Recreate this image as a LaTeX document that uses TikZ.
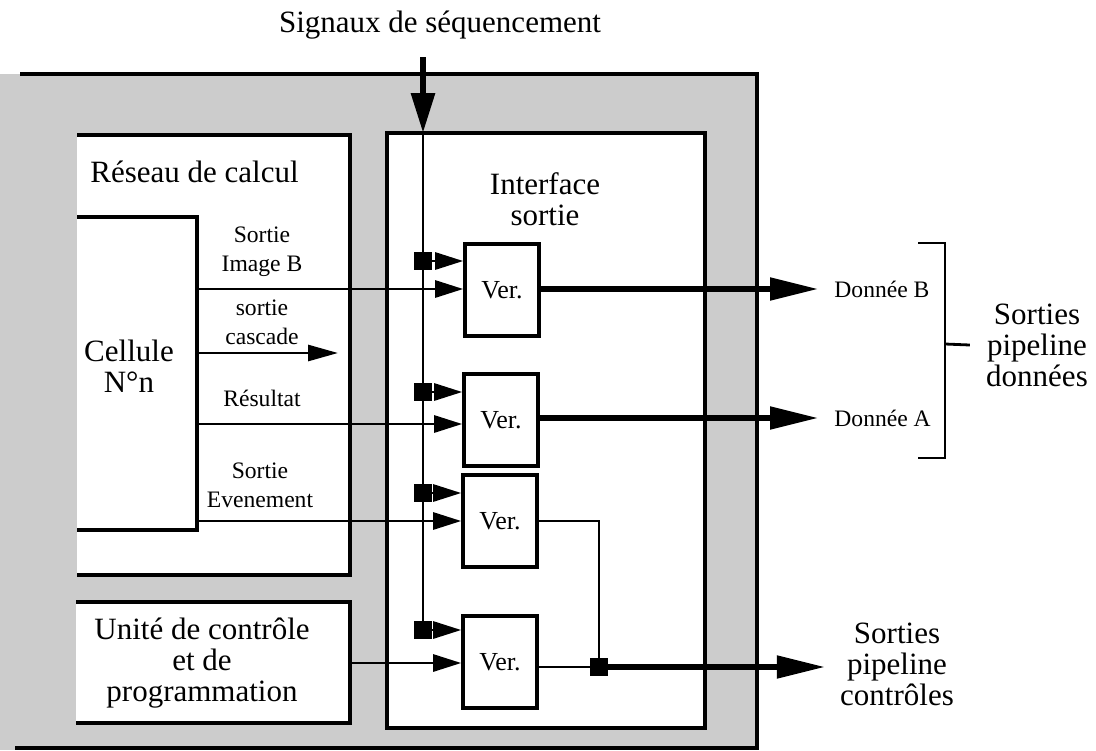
\documentclass[tikz,border=0pt]{standalone}
\usepackage{fontspec}
\setmainfont{Liberation Serif}
\usetikzlibrary{arrows.meta}
\newcommand{\bigtxt}{\fontsize{15.5}{15.5}\selectfont}
\newcommand{\smalltxt}{\fontsize{11.8}{14.5}\selectfont}
\newcommand{\vertxt}{\fontsize{13}{13}\selectfont}

\begin{document}
\begin{tikzpicture}[x=0.5pt, y=-0.5pt]

		% Define styles
		\tikzstyle{frame} = [line width=1.8pt]
		\tikzstyle{verbox} = [rectangle, draw, line width=1.8pt, fill=white,
		minimum width=37pt, minimum height=46pt, inner sep=0pt, font=\vertxt]
		\tikzstyle{junc} = [rectangle, fill=black, minimum size=9pt, inner sep=0pt]
		\tikzstyle{sigline} = [line width=1.4pt]
		\tikzstyle{inarrow} = [line width=1.4pt, -{Triangle[length=14pt, width=8.5pt]}]
		\tikzstyle{outarrow} = [line width=2.6pt, -{Triangle[length=24pt, width=11pt]}]
		\tikzstyle{biglbl} = [font=\bigtxt, align=center, inner sep=0pt]
		\tikzstyle{smalllbl} = [font=\smalltxt, align=center, inner sep=0pt]

		\useasboundingbox (0,0) rectangle (1096,750);

		% Shaded background and outer frame
		\fill[black!20] (0,74) rectangle (757,750);
		\draw[frame] (20,74) -- (757,74) -- (757,750);
		\draw[frame] (15,748) -- (757,748);

		% Blocks (open on the left)
		\fill[white] (77,135) rectangle (350,575);
		\draw[frame] (77,135) -- (350,135) -- (350,575) -- (77,575);
		\draw[frame] (77,217) -- (197,217) -- (197,530) -- (77,530);
		\fill[white] (76,602) rectangle (350,723);
		\draw[frame] (76,602) -- (350,602) -- (350,723) -- (76,723);
		\draw[frame, fill=white] (387,133) rectangle (705,728);

		% Block titles
		\node[biglbl, anchor=west] (reseau) at (90,172) {Réseau de calcul};
		\node[biglbl] (cellule) at (129,366) {Cellule\\N°n};
		\node[biglbl] (unite) at (202,663) {Unité de contrôle\\et de\\programmation};
		\node[biglbl] (interface) at (545,199) {Interface\\sortie};
		\node[biglbl] (seqlbl) at (440,25) {Signaux de séquencement};

		% Signal labels
		\node[smalllbl] (lblimgb) at (262,252) {Sortie\\Image B};
		\node[smalllbl] (lblcasc) at (262,322) {sortie\\cascade};
		\node[smalllbl] (lblres) at (262,398) {Résultat};
		\node[smalllbl] (lblevt) at (260,485) {Sortie\\Evenement};

		% Ver. boxes
		\node[verbox] (ver1) at (502,290) {Ver.};
		\node[verbox] (ver2) at (501,420) {Ver.};
		\node[verbox] (ver3) at (500,521) {Ver.};
		\node[verbox] (ver4) at (500,662) {Ver.};

		% Junctions
		\node[junc] (j1) at (423,261) {};
		\node[junc] (j2) at (423,392) {};
		\node[junc] (j3) at (423,493) {};
		\node[junc] (j4) at (423,630) {};
		\node[junc] (jctl) at (599,667) {};

		% Outputs labels
		\node[smalllbl, anchor=west, inner xsep=8pt] (donb) at (818,289) {Donnée B};
		\node[smalllbl, anchor=west, inner xsep=8pt] (dona) at (818,418) {Donnée A};
		\node[biglbl, inner xsep=8pt] (pipedon) at (1037,345) {Sorties\\pipeline\\données};
		\node[biglbl, inner xsep=7.5pt] (pipectl) at (897,664) {Sorties\\pipeline\\contrôles};

		% Sequencing signal
		\coordinate (seqtop) at (423,57);
		\coordinate (seqin) at (423,133);
		\draw[line width=3pt, -{Triangle[length=20pt, width=11.5pt]}] (seqtop) -- (seqin);
		\draw[sigline] (seqin) -- (j4);
		\foreach \j/\v in {j1/ver1, j2/ver2, j3/ver3, j4/ver4}
		\draw[inarrow] (\j) -- (\j -| \v.west);

		% Inputs from the cell and the control unit
		\coordinate (celimgb) at (197,289);
		\coordinate (celres) at (197,424);
		\coordinate (celevt) at (197,521);
		\coordinate (unictl) at (350,663);
		\coordinate (celcasc) at (197,353);
		\coordinate (cascend) at (338,353);
		\draw[inarrow] (celimgb) -- (celimgb -| ver1.west);
		\draw[inarrow] (celres) -- (celres -| ver2.west);
		\draw[inarrow] (celevt) -- (celevt -| ver3.west);
		\draw[inarrow] (unictl) -- (unictl -| ver4.west);
		\draw[line width=1.4pt, -{Triangle[length=15pt, width=8pt]}] (celcasc) -- (cascend);

		% Outputs
		\draw[outarrow] (ver1.east |- donb) -- (donb);
		\draw[outarrow] (ver2.east |- dona) -- (dona);
		\draw[sigline] (ver3) -| (jctl);
		\draw[sigline] (ver4.east |- jctl) -- (jctl);
		\draw[outarrow] (jctl) -- (jctl -| pipectl.west);

		% Bracket
		\coordinate (brk) at (945,344);
		\draw[sigline] (918,243) -- (945,243) -- (945,458) -- (918,458);
		\draw[sigline] (brk) -- (pipedon.west);

\end{tikzpicture}
\end{document}
